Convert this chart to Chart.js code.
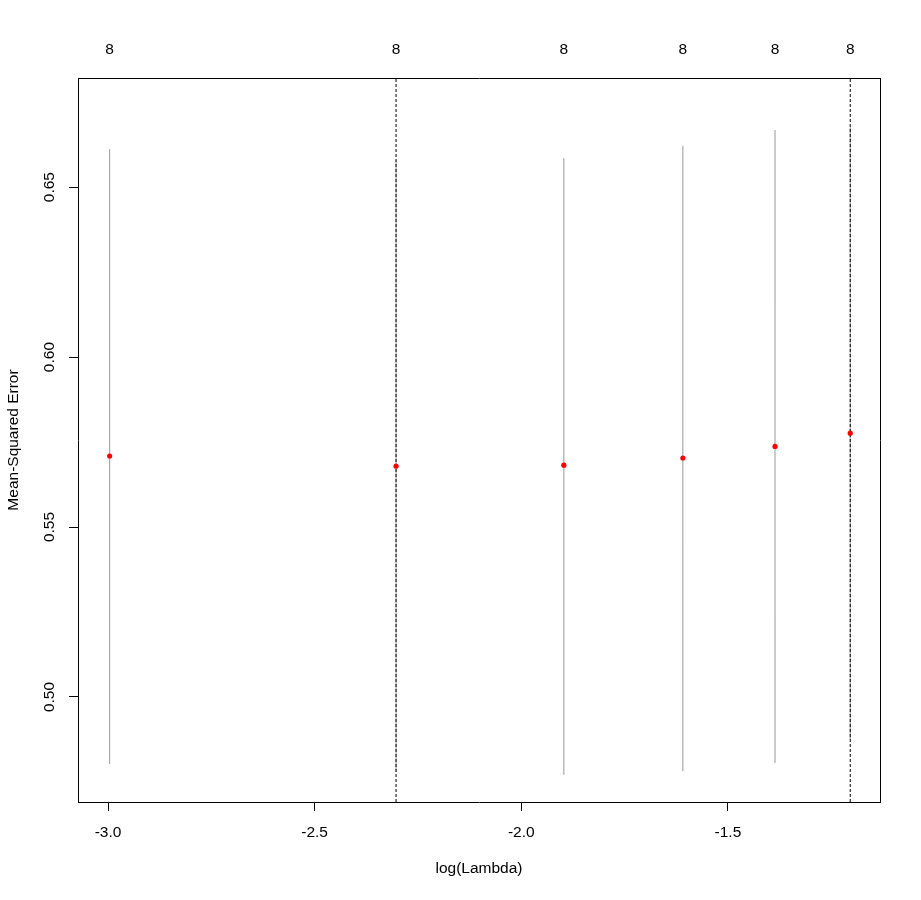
<!DOCTYPE html>
<html>
<head>
<meta charset="utf-8">
<script src="https://cdn.jsdelivr.net/npm/chart.js@4.4.1/dist/chart.umd.min.js"></script>
<style>
  html, body { margin: 0; padding: 0; background: #ffffff; }
  #wrap { width: 921px; height: 900px; }
</style>
</head>
<body>
<div id="wrap"><canvas id="c" width="921" height="900"></canvas></div>
<script>
// ---- data ----
const logLambda = [-2.996, -2.303, -1.897, -1.609, -1.386, -1.204];
const cvm       = [0.5709, 0.5679, 0.5682, 0.5703, 0.5737, 0.5776];
const cvUpper   = [0.6612, 0.6579, 0.6585, 0.6621, 0.6668, 0.6676];
const cvLower   = [0.4803, 0.4779, 0.4771, 0.4782, 0.4806, 0.4876];
const nzero     = ["8", "8", "8", "8", "8", "8"];
const lambdaMinLog = -2.303;
const lambda1seLog = -1.204;
const xTicks = [-3.0, -2.5, -2.0, -1.5];
const yTicks = [0.50, 0.55, 0.60, 0.65];
const xLimits = [-3.0726, -1.132];
const yLimits = [0.4691, 0.6821];

const FONT = { family: "'Liberation Sans', Arial, sans-serif", size: 15.5 };

const datasets = [];
datasets.push({
  label: 'cvm',
  data: logLambda.map((x, i) => ({ x: x, y: cvm[i] })),
  showLine: false,
  pointRadius: 2.6,
  pointBackgroundColor: '#ff0000',
  pointBorderWidth: 0,
  order: 0
});
[lambdaMinLog, lambda1seLog].forEach(v => {
  datasets.push({
    label: 'vline',
    data: [{ x: v, y: yLimits[0] }, { x: v, y: yLimits[1] }],
    showLine: true,
    borderColor: '#000000',
    borderWidth: 1,
    borderDash: [3, 2],
    pointRadius: 0,
    order: 1
  });
});
logLambda.forEach((x, i) => {
  datasets.push({
    label: 'err' + i,
    data: [{ x: x, y: cvLower[i] }, { x: x, y: cvUpper[i] }],
    showLine: true,
    borderColor: '#989898',
    borderWidth: 1,
    pointRadius: 0,
    order: 2
  });
});

new Chart(document.getElementById('c'), {
  type: 'scatter',
  data: { datasets: datasets },
  options: {
    responsive: false,
    devicePixelRatio: 1,
    animation: false,
    layout: { padding: 0 },
    plugins: { legend: { display: false }, tooltip: { enabled: false } },
    scales: {
      x: {
        type: 'linear', position: 'bottom',
        min: xLimits[0], max: xLimits[1],
        afterBuildTicks: s => { s.ticks = xTicks.map(v => ({ value: v })); },
        afterFit: s => { s.height = 98; },
        grid: { drawOnChartArea: false, drawTicks: true, tickLength: 9, color: '#000000', tickColor: '#000000' },
        border: { display: true, color: '#000000', width: 1 },
        ticks: { color: '#000000', font: FONT, padding: 12, autoSkip: false, maxRotation: 0,
                 callback: v => Number(v).toFixed(1) },
        title: { display: true, text: 'log(Lambda)', color: '#000000', font: FONT, padding: { top: 0, bottom: 22 } }
      },
      xTop: {
        type: 'linear', position: 'top',
        min: xLimits[0], max: xLimits[1],
        afterBuildTicks: s => { s.ticks = logLambda.map(v => ({ value: v })); },
        afterFit: s => { s.height = 78; },
        grid: { drawOnChartArea: false, drawTicks: false },
        border: { display: true, color: '#000000', width: 1 },
        ticks: { color: '#000000', font: FONT, padding: 19, autoSkip: false, maxRotation: 0,
                 callback: (v, i) => nzero[i] }
      },
      y: {
        type: 'linear', position: 'left',
        min: yLimits[0], max: yLimits[1],
        afterBuildTicks: s => { s.ticks = yTicks.map(v => ({ value: v })); },
        afterFit: s => { s.width = 78; },
        grid: { drawOnChartArea: false, drawTicks: true, tickLength: 9, color: '#000000', tickColor: '#000000' },
        border: { display: true, color: '#000000', width: 1 },
        ticks: { color: '#000000', font: FONT, padding: 4, autoSkip: false, minRotation: 90, maxRotation: 90,
                 crossAlign: 'center', callback: v => Number(v).toFixed(2) },
        title: { display: true, text: 'Mean-Squared Error', color: '#000000', font: FONT, padding: { top: 4, bottom: 0 } }
      },
      yRight: {
        type: 'linear', position: 'right',
        min: yLimits[0], max: yLimits[1],
        afterFit: s => { s.width = 41; },
        grid: { drawOnChartArea: false, drawTicks: false },
        border: { display: true, color: '#000000', width: 1 },
        ticks: { display: false }
      }
    }
  }
});
</script>
</body>
</html>
